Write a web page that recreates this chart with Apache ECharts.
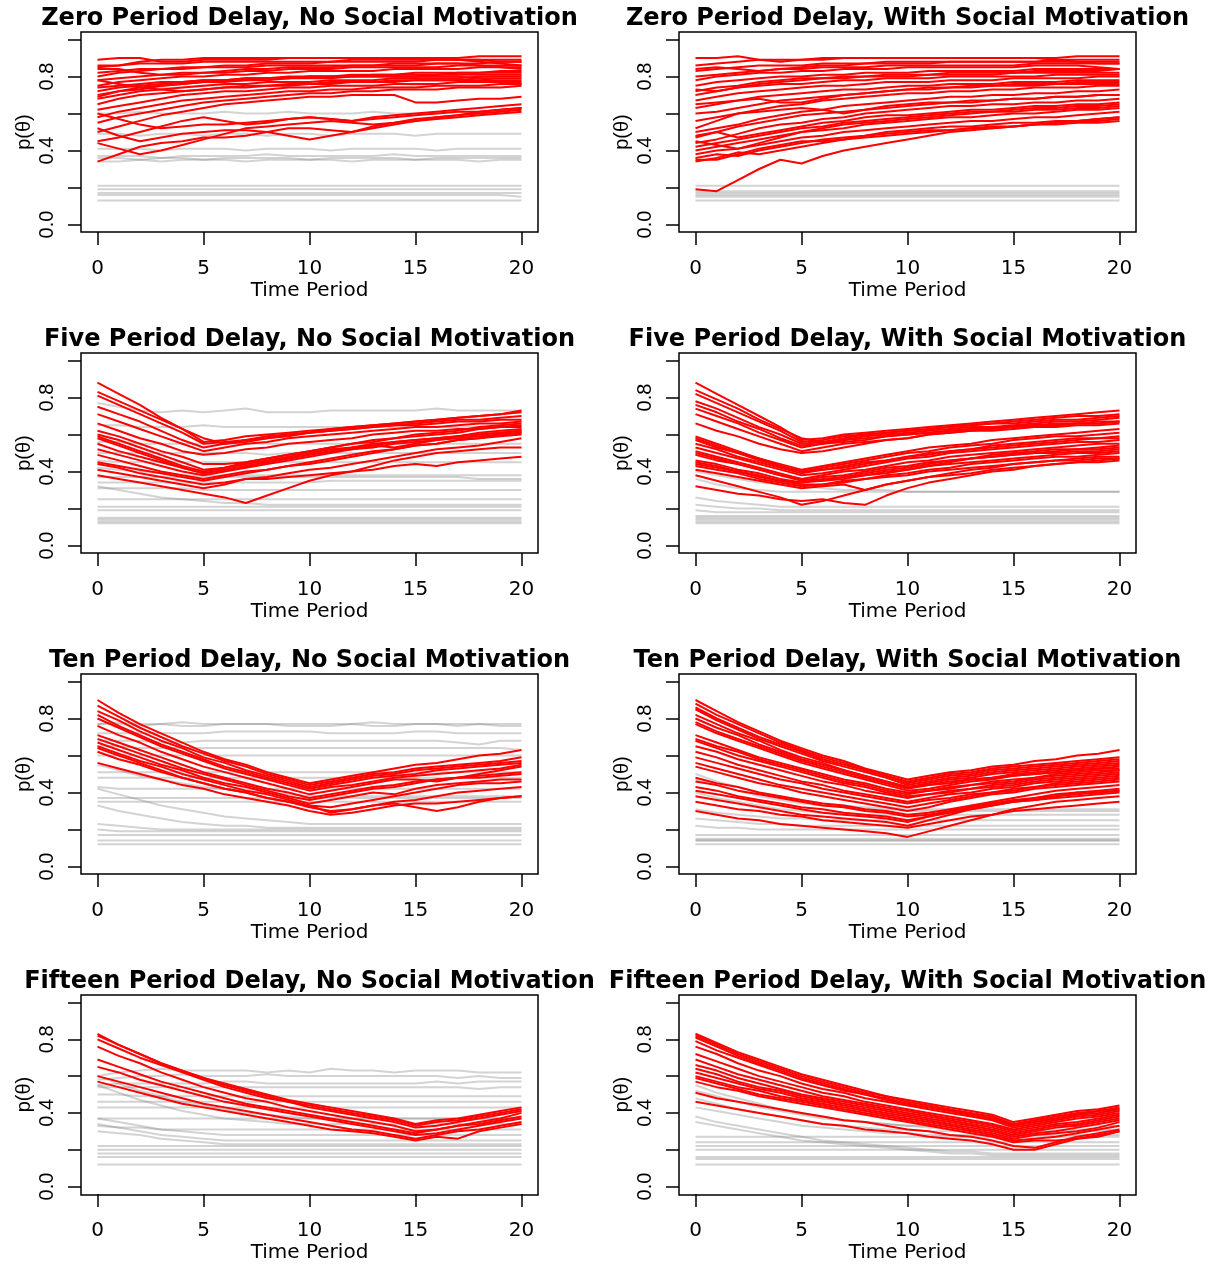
<!DOCTYPE html>
<html>
<head>
<meta charset="utf-8">
<script src="https://cdn.jsdelivr.net/npm/echarts@6/dist/echarts.min.js"></script>
<style>
html,body{margin:0;padding:0;background:#fff;}
#c{width:1208px;height:1264px;}
</style>
</head>
<body>
<div id="c"></div>
<script>
// Time periods (x values)
const timePeriods = [0,1,2,3,4,5,6,7,8,9,10,11,12,13,14,15,16,17,18,19,20];
const xTickInterval = 5;
const yTickInterval = 0.2;
const yLabelStep = 0.4;

const panelTitles = [
  "Zero Period Delay, No Social Motivation",
  "Zero Period Delay, With Social Motivation",
  "Five Period Delay, No Social Motivation",
  "Five Period Delay, With Social Motivation",
  "Ten Period Delay, No Social Motivation",
  "Ten Period Delay, With Social Motivation",
  "Fifteen Period Delay, No Social Motivation",
  "Fifteen Period Delay, With Social Motivation"
];

// p(theta) values in hundredths, one row per trajectory, t = 0..20
const zeroNoRed = [
[89,90,90,88,88,89,89,89,89,90,90,90,90,90,90,90,90,90,91,91,91],
[85,86,88,89,89,90,90,90,90,90,90,90,90,90,90,90,90,89,88,87,86],
[80,82,83,84,85,85,86,86,87,87,87,88,88,88,88,88,89,89,89,89,89],
[78,79,80,81,82,82,83,84,84,85,85,85,86,86,86,86,87,87,87,88,88],
[84,84,82,81,81,82,82,83,83,84,84,84,85,85,85,85,85,86,86,86,86],
[75,77,78,79,80,80,81,81,82,82,83,83,83,83,84,84,84,84,85,85,85],
[72,74,75,76,77,78,78,79,79,80,80,80,81,81,81,82,82,82,82,83,83],
[70,72,73,75,76,77,78,78,79,79,80,80,80,81,81,81,81,82,82,82,82],
[68,70,72,73,74,75,76,76,77,77,77,78,78,78,79,79,79,79,80,80,80],
[65,68,70,71,72,73,74,75,75,76,76,77,77,77,78,78,78,78,79,79,79],
[78,76,74,73,72,73,74,74,75,75,76,76,77,77,77,78,78,78,78,78,78],
[62,64,66,68,70,71,72,72,73,74,74,75,75,75,76,76,76,77,77,77,77],
[58,61,63,65,67,68,69,70,71,72,72,73,73,74,74,74,75,75,75,76,76],
[55,58,60,62,64,66,67,68,69,70,71,71,72,72,73,73,73,74,74,74,75],
[50,53,56,59,61,63,65,66,67,68,69,69,70,70,70,66,66,67,68,68,69],
[45,47,50,53,56,58,56,54,55,57,58,57,56,57,58,59,60,61,61,62,63],
[44,41,38,40,43,46,49,52,53,54,55,56,55,54,55,57,58,59,60,61,62],
[34,38,42,44,45,47,47,48,50,52,52,51,50,53,55,56,57,58,59,60,61],
[52,48,45,47,49,50,51,51,50,48,46,48,50,52,54,56,58,59,61,62,63],
[60,57,54,52,53,54,54,55,56,57,58,57,56,58,59,60,61,62,63,64,65],
[82,83,84,84,84,85,85,85,86,86,86,86,86,86,87,87,87,87,86,85,84],
[74,75,76,77,77,78,78,79,79,79,80,80,80,80,80,80,80,80,79,77,76],
[86,86,87,87,87,88,88,88,88,88,88,88,89,89,89,89,89,89,89,88,88],
[69,72,74,75,76,77,77,78,78,79,79,79,80,80,80,80,81,81,81,81,81]
];
const zeroNoGray = [
[74,74,75,74,74,75,75,74,75,75,74,75,75,75,74,75,75,75,75,74,75],
[60,60,61,60,60,60,61,60,60,61,60,60,60,61,60,60,60,61,60,60,60],
[49,49,48,49,49,48,49,49,48,49,49,48,49,49,49,48,49,49,49,49,49],
[41,41,41,40,41,41,41,40,41,41,41,40,41,41,41,41,40,41,41,41,41],
[37,37,37,36,37,37,37,37,38,37,37,37,37,37,38,37,37,37,37,37,37],
[36,36,35,36,36,35,36,36,36,36,35,36,36,36,36,35,36,36,36,36,36],
[34,34,35,34,35,35,35,34,35,35,35,35,34,35,35,35,35,35,34,35,35],
[21,21,21,21,21,21,21,21,21,21,21,21,21,21,21,21,21,21,21,21,21],
[19,19,19,19,19,19,19,19,19,19,19,19,19,19,19,19,19,19,19,19,19],
[17,17,17,17,17,17,17,17,17,17,17,17,17,17,17,17,17,17,17,17,17],
[16,16,16,16,16,16,16,16,16,16,16,16,16,16,16,16,16,16,16,16,15],
[13,13,13,13,13,13,13,13,13,13,13,13,13,13,13,13,13,13,13,13,13]
];

const zeroWithRed = [
[90,90,91,89,88,89,89,90,90,90,90,90,90,90,90,90,90,90,91,91,91],
[86,87,88,89,89,89,90,90,90,90,90,90,90,90,90,90,90,89,88,87,87],
[84,85,84,83,84,85,86,86,87,87,87,87,88,88,88,88,88,88,88,88,88],
[80,81,82,83,84,84,85,85,85,86,86,86,86,86,86,86,87,87,87,87,87],
[78,80,81,82,82,83,83,84,84,84,85,85,85,85,85,85,86,86,86,85,84],
[75,77,78,79,80,80,81,81,82,82,82,83,83,83,83,83,84,84,84,84,84],
[73,72,74,76,77,78,79,79,80,80,80,81,81,81,81,82,82,82,82,82,82],
[70,72,74,75,76,76,77,78,78,79,79,79,80,80,80,80,80,81,81,81,81],
[67,69,71,72,73,74,75,75,76,77,77,77,78,78,78,79,79,79,79,80,80],
[65,66,67,69,70,71,72,73,73,74,75,75,76,76,76,77,77,77,78,78,78],
[63,65,67,68,66,66,68,70,71,72,73,73,74,74,75,75,75,76,76,76,76],
[52,56,60,62,64,65,67,68,69,70,71,71,72,72,73,73,74,74,74,75,75],
[50,52,54,57,59,61,62,64,65,66,67,68,69,69,70,70,71,71,72,72,73],
[47,50,53,55,57,59,60,61,62,63,64,65,66,66,67,68,68,69,69,70,70],
[44,46,49,52,54,55,57,58,60,61,62,63,64,64,65,65,66,66,67,67,68],
[42,44,46,48,50,52,53,55,56,57,58,59,60,61,61,62,63,63,64,64,65],
[40,42,44,46,48,50,51,52,54,55,56,57,58,58,59,60,60,61,62,62,63],
[38,40,41,43,45,47,48,50,51,52,53,54,55,56,56,57,58,58,59,60,61],
[36,38,37,40,42,44,46,47,48,50,51,52,53,53,54,55,55,56,56,57,58],
[35,35,38,41,43,45,45,46,48,49,50,51,51,52,53,53,54,55,56,56,57],
[34,36,39,38,40,42,44,46,47,48,49,50,51,52,52,53,54,54,55,55,56],
[19,18,24,30,35,33,37,40,42,44,46,48,50,51,52,53,54,55,56,57,58],
[45,43,41,44,47,50,52,54,55,56,57,58,59,60,61,61,62,62,63,63,64],
[56,58,60,61,62,63,62,60,62,64,65,66,66,67,67,68,68,69,69,70,70],
[83,84,85,86,86,86,87,87,87,88,88,88,88,88,88,88,88,89,89,89,89],
[60,61,63,65,67,68,69,70,71,72,73,74,74,75,75,76,76,76,77,77,77],
[48,50,47,49,51,53,55,56,58,59,59,60,61,62,62,63,64,64,65,65,66],
[72,74,75,77,78,79,79,80,80,81,81,81,82,82,82,82,83,83,83,83,84]
];
const zeroWithGray = [
[21,21,21,21,21,21,21,21,21,21,21,21,21,21,21,21,21,21,21,21,21],
[18,18,18,18,18,18,18,18,18,18,18,18,18,18,18,18,18,18,18,18,18],
[17,17,17,17,17,17,17,17,17,17,17,17,17,17,17,17,17,17,17,17,17],
[16,16,16,16,16,16,16,16,16,16,16,16,16,16,16,16,16,16,16,16,16],
[15,15,15,15,15,15,15,15,15,15,15,15,15,15,15,15,15,15,15,15,15],
[13,13,13,13,13,13,13,13,13,13,13,13,13,13,13,13,13,13,13,13,13]
];

const fiveNoRed = [
[88,82,76,69,63,56,57,59,60,61,62,63,64,65,66,67,68,69,70,71,72],
[83,78,73,68,63,58,55,57,58,60,61,63,64,65,66,67,68,69,70,71,73],
[81,76,71,66,61,55,56,57,59,60,61,62,63,64,65,66,67,68,68,69,70],
[75,71,67,62,57,53,55,56,58,59,61,62,63,64,65,65,66,67,67,68,68],
[71,67,63,59,55,51,53,55,56,58,59,60,61,62,63,64,64,65,66,66,67],
[66,62,58,55,51,49,50,52,53,55,56,57,58,60,61,62,62,63,63,64,64],
[59,55,51,47,43,40,42,44,46,48,50,52,53,55,56,57,58,59,60,61,62],
[58,54,50,46,42,39,41,43,45,47,49,51,53,54,56,57,58,59,60,61,62],
[52,49,46,43,40,38,40,42,44,46,48,50,52,53,55,56,57,58,59,60,61],
[55,51,48,45,42,39,41,43,45,47,49,51,52,54,53,55,57,59,61,62,63],
[45,43,41,39,37,35,37,39,41,43,44,46,48,50,52,54,55,57,58,60,61],
[41,39,37,35,33,31,33,36,37,39,41,42,44,46,48,50,52,53,54,56,58],
[38,36,34,32,30,28,26,23,27,31,35,38,40,43,46,48,50,51,52,53,53],
[44,42,39,37,35,33,34,36,36,37,38,39,40,41,43,44,43,45,46,47,48],
[62,59,55,51,48,44,44,45,47,49,51,53,55,56,58,59,60,61,63,64,65],
[60,57,53,49,45,41,42,45,47,49,51,53,55,57,58,60,61,62,64,65,66],
[49,46,43,40,38,36,38,40,41,43,45,47,49,51,52,54,55,57,58,59,60]
];
const fiveNoGray = [
[77,75,73,72,73,72,73,74,72,72,72,73,73,73,73,73,74,73,73,73,73],
[65,65,64,64,64,65,64,64,64,64,64,64,64,64,64,64,64,64,64,64,64],
[56,56,55,55,55,55,55,55,55,55,55,55,55,55,55,55,55,55,55,55,55],
[50,50,50,50,50,50,50,50,49,50,50,50,50,50,50,50,50,50,50,50,50],
[46,45,45,45,45,45,45,45,45,45,45,45,45,45,45,45,45,45,45,45,45],
[42,41,40,39,38,38,38,38,38,38,38,38,38,38,38,38,38,38,38,38,38],
[37,37,37,37,37,37,37,37,37,37,37,37,37,37,37,37,37,37,36,36,36],
[34,34,34,34,34,34,34,34,34,34,34,35,35,35,35,35,35,35,35,35,35],
[31,31,31,31,31,30,30,30,30,30,30,30,30,30,30,30,30,30,30,30,30],
[32,30,28,26,25,24,23,23,22,22,22,22,22,22,22,22,22,22,22,22,22],
[25,25,25,25,25,25,25,25,25,25,25,25,25,25,25,25,25,25,25,25,25],
[21,21,21,21,21,21,21,21,21,21,21,21,21,21,21,21,21,21,21,21,21],
[19,19,19,19,19,19,19,19,19,19,19,19,19,19,19,19,19,19,19,19,19],
[15,15,15,15,15,15,15,15,15,15,15,15,15,15,15,15,15,15,15,15,15],
[14,14,14,14,14,14,14,14,14,14,14,14,14,14,14,14,14,14,14,14,14],
[13,13,13,13,13,13,13,13,13,13,13,13,13,13,13,13,13,13,13,13,13],
[12,12,12,12,12,12,12,12,12,12,12,12,12,12,12,12,12,12,12,12,12]
];

const fiveWithRed = [
[88,82,76,70,64,57,58,60,61,62,63,64,65,66,67,68,69,70,71,72,73],
[84,79,74,68,63,58,56,58,60,61,62,63,64,65,66,67,68,69,70,70,71],
[82,77,72,67,62,56,57,59,60,61,62,63,64,65,66,66,67,68,68,69,70],
[78,74,69,64,60,55,56,57,59,60,61,62,63,64,64,65,66,67,67,68,69],
[76,72,67,63,58,54,55,57,58,59,60,61,62,63,64,64,65,66,66,67,67],
[74,70,66,61,57,53,55,56,57,59,60,61,62,63,63,64,65,65,66,66,67],
[71,67,63,59,55,51,53,55,56,57,58,60,61,62,62,63,64,64,65,65,66],
[59,55,51,47,44,41,43,45,47,49,51,53,54,55,57,58,59,60,61,62,63],
[58,54,50,47,43,40,42,44,46,48,50,51,53,54,55,57,58,59,59,60,61],
[55,52,48,45,42,39,41,43,45,46,48,50,51,52,54,55,56,57,58,58,59],
[53,50,47,44,41,38,39,41,43,45,47,48,50,51,52,53,54,55,56,56,57],
[51,48,45,42,39,36,38,40,41,43,45,46,48,49,50,51,52,53,54,55,55],
[49,46,44,41,38,35,37,38,40,42,43,45,46,47,48,49,50,51,52,52,53],
[46,44,41,39,36,34,35,37,38,40,41,43,44,45,46,47,48,49,50,50,51],
[45,43,40,38,35,33,33,34,36,38,39,41,42,44,45,46,47,48,48,49,50],
[43,41,39,36,34,32,33,35,36,37,38,40,41,42,43,44,45,46,46,47,47],
[41,39,37,35,33,31,32,33,30,33,35,37,38,39,41,42,43,44,45,45,46],
[38,35,32,29,26,22,24,27,30,33,35,37,39,41,42,44,45,46,47,48,48],
[32,30,28,27,25,24,25,23,22,27,31,34,36,38,40,41,43,44,45,46,47],
[66,62,59,55,52,50,51,53,55,57,58,60,61,62,63,64,65,65,66,66,67],
[50,47,44,41,38,36,35,36,38,39,41,43,45,47,49,50,51,52,52,53,54],
[44,42,40,37,35,34,36,37,39,41,42,44,46,47,48,49,50,50,51,51,52],
[57,53,50,46,43,40,41,42,44,46,48,49,51,52,53,54,55,56,57,58,58]
];
const fiveWithGray = [
[40,38,36,34,33,32,31,30,30,30,29,29,29,29,29,29,29,29,29,29,29],
[36,33,31,30,29,29,29,29,29,29,29,29,29,29,29,29,29,29,29,29,29],
[26,24,23,22,21,21,21,21,21,21,21,21,21,21,21,21,21,21,21,21,21],
[22,21,20,20,19,19,19,19,19,19,19,19,19,19,19,19,19,19,19,19,19],
[19,18,18,18,18,18,18,18,18,18,18,18,18,18,18,18,18,18,18,18,18],
[16,16,16,16,16,16,16,16,16,16,16,16,16,16,16,16,16,16,16,16,16],
[15,15,15,15,15,15,15,15,15,15,15,15,15,15,15,15,15,15,15,15,15],
[14,14,14,14,14,14,14,14,14,14,14,14,14,14,14,14,14,14,14,14,14],
[13,13,13,13,13,13,13,13,13,13,13,13,13,13,13,13,13,13,13,13,13],
[12,12,12,12,12,12,12,12,12,12,12,12,12,12,12,12,12,12,12,12,12]
];

const tenNoRed = [
[90,83,77,72,67,62,58,55,51,48,45,47,49,51,53,55,56,58,60,61,63],
[87,81,75,70,65,61,57,54,50,47,44,46,48,50,51,53,54,55,56,57,59],
[84,79,73,68,64,59,56,52,49,46,43,45,47,49,50,52,53,54,55,56,57],
[82,76,71,66,62,58,54,51,48,45,42,44,46,48,49,50,52,53,54,55,56],
[80,75,70,65,61,57,53,50,47,44,41,43,44,46,48,49,50,51,52,53,55],
[71,67,63,59,55,51,48,45,42,40,37,39,41,43,44,46,47,48,49,50,51],
[69,65,61,57,53,50,47,44,41,38,36,38,40,42,43,45,47,48,48,49,50],
[67,63,59,55,52,48,45,43,40,37,34,36,38,40,39,42,44,45,46,47,47],
[65,61,57,54,50,47,44,41,39,36,33,32,34,36,38,40,42,44,45,45,46],
[62,58,55,51,48,45,42,40,37,35,32,30,31,33,35,36,38,40,41,42,43],
[56,53,50,47,44,42,39,37,35,33,30,28,29,31,33,34,34,35,36,37,38],
[76,71,67,62,58,54,51,48,45,42,39,41,43,45,47,47,46,48,50,52,54],
[64,60,56,52,48,45,42,40,37,35,33,29,31,33,34,32,30,32,35,37,38]
];
const tenNoGray = [
[77,77,76,77,76,76,77,77,77,76,76,76,77,76,76,77,77,76,77,76,76],
[77,78,77,77,78,77,77,77,77,77,77,77,77,78,77,77,77,77,77,77,77],
[72,72,72,72,72,72,73,73,73,73,73,72,72,72,72,73,73,72,72,72,72],
[68,68,68,67,67,68,68,68,68,68,68,68,68,68,68,68,68,67,66,68,68],
[65,65,64,64,64,64,64,64,64,64,64,64,64,64,64,64,64,64,64,64,63],
[60,60,60,60,60,60,60,60,60,60,60,60,60,60,60,60,60,60,60,60,60],
[51,51,51,51,51,51,51,51,51,51,51,51,51,51,51,51,51,51,51,51,51],
[48,48,48,48,48,48,48,48,48,48,48,48,48,48,48,48,48,48,48,48,48],
[55,52,49,47,45,43,42,41,40,39,38,38,38,38,38,38,38,38,38,38,38],
[43,42,42,42,42,42,42,42,42,42,42,42,42,42,42,42,42,42,42,42,42],
[37,37,37,37,37,37,37,37,37,37,37,37,37,37,37,37,37,37,37,37,37],
[35,35,35,35,35,35,35,35,35,35,35,35,35,35,35,35,35,35,35,35,35],
[42,39,36,33,31,29,27,26,25,24,23,23,23,23,23,23,23,23,23,23,23],
[33,30,28,26,24,23,22,22,21,21,21,21,21,21,21,21,21,21,21,21,21],
[23,22,21,20,20,20,20,20,20,20,20,20,20,20,20,20,20,20,20,20,20],
[20,19,19,19,19,19,19,19,19,19,19,19,19,19,19,19,19,19,19,19,19],
[17,17,17,17,17,17,17,17,17,17,17,17,17,17,17,17,17,17,17,17,17],
[14,14,14,14,14,14,14,14,14,14,14,14,14,14,14,14,14,14,14,14,14],
[12,12,12,12,12,12,12,12,12,12,12,12,12,12,12,12,12,12,12,12,12]
];

const tenWithRed = [
[90,84,78,73,68,64,60,57,53,50,47,49,51,52,54,55,57,58,60,61,63],
[88,82,77,72,67,63,59,56,52,49,46,48,50,51,53,54,55,56,57,58,59],
[86,80,75,70,66,62,58,55,52,49,45,47,49,50,52,53,54,55,56,57,58],
[85,79,74,69,65,61,57,54,51,48,44,46,48,49,51,52,53,54,55,56,57],
[82,77,72,68,63,59,56,52,49,46,43,45,47,48,50,51,52,53,54,55,56],
[78,73,69,65,61,57,54,51,48,45,42,44,46,47,48,49,50,51,52,53,54],
[77,72,68,64,60,56,53,50,47,44,41,42,44,46,47,49,50,51,52,53,53],
[71,67,63,59,56,53,50,47,45,42,40,41,43,44,46,47,48,50,51,52,52],
[69,65,62,58,55,52,49,46,44,41,39,41,42,44,45,46,48,49,50,51,52],
[68,64,60,57,54,51,48,45,43,40,38,39,41,42,44,45,47,48,49,50,51],
[62,59,55,52,49,46,44,41,39,37,35,37,39,40,42,43,45,46,47,48,49],
[56,53,50,47,44,42,40,38,36,34,32,34,36,38,40,42,43,45,46,47,48],
[54,51,48,45,43,40,38,36,34,32,30,32,35,37,39,40,42,43,44,45,46],
[48,45,43,40,38,36,34,33,31,30,28,29,31,33,35,37,39,41,42,43,44],
[43,41,38,36,34,32,31,29,28,27,25,27,29,31,33,35,37,38,40,41,42],
[41,39,37,35,33,31,29,28,27,26,24,27,30,32,34,36,37,39,40,40,41],
[38,36,34,32,30,28,27,26,25,24,22,25,28,31,33,35,36,37,38,39,40],
[30,28,26,25,23,22,21,20,19,18,16,19,22,25,28,31,33,35,36,37,38],
[65,62,58,55,52,49,46,44,41,39,37,39,40,42,43,44,46,47,48,49,50],
[59,56,53,50,47,45,42,40,38,36,34,36,37,39,40,41,43,44,45,46,47],
[46,44,41,39,37,35,33,32,30,29,27,28,30,32,34,35,36,38,39,40,41],
[80,75,71,66,62,58,55,52,49,46,43,44,45,47,48,50,51,52,53,54,55],
[35,33,31,30,28,27,25,24,23,22,21,23,25,27,28,30,31,32,33,34,35]
];
const tenWithGray = [
[50,46,43,40,38,36,34,33,32,32,31,31,31,31,31,31,31,31,31,31,31],
[47,44,41,38,36,34,33,32,31,31,30,30,30,30,30,30,30,30,30,30,30],
[40,37,35,33,31,30,29,29,28,28,28,28,28,28,28,28,28,28,28,28,28],
[31,29,28,27,26,26,25,25,25,25,25,25,25,25,25,25,25,25,25,25,25],
[26,25,24,23,23,22,22,22,22,22,22,22,22,22,22,22,22,22,22,22,22],
[22,21,21,20,20,20,20,20,20,20,20,20,20,20,20,20,20,20,20,20,20],
[17,17,17,17,17,17,17,17,17,17,17,17,17,17,17,17,17,17,17,17,17],
[15,15,15,15,15,15,15,15,15,15,15,15,15,15,15,15,15,15,15,15,15],
[14,14,14,14,14,14,14,14,14,14,14,14,14,14,14,14,14,14,14,14,14],
[14,14,14,14,14,14,14,14,14,14,14,14,14,14,14,14,14,14,14,14,14],
[12,12,12,12,12,12,12,12,12,12,12,12,12,12,12,12,12,12,12,12,12]
];

const fifteenNoRed = [
[83,77,72,67,63,59,56,53,50,47,45,43,41,39,37,34,36,37,39,41,43],
[82,77,72,67,63,59,55,52,49,46,44,42,40,38,36,33,35,36,38,40,42],
[80,75,70,66,62,58,54,51,48,46,43,41,39,37,35,32,33,35,37,39,41],
[76,71,67,62,58,54,51,48,46,43,41,39,37,35,33,30,31,33,34,36,38],
[69,65,61,57,54,51,48,45,43,41,39,37,35,33,31,29,31,33,35,37,40],
[65,62,58,55,52,49,46,44,42,40,38,36,34,32,30,28,29,31,33,35,37],
[60,57,54,51,48,45,43,41,39,37,35,33,31,30,28,26,28,30,31,33,35],
[57,54,51,48,45,43,41,39,37,35,33,31,30,29,27,25,27,26,30,32,34]
];
const fifteenNoGray = [
[60,62,63,64,63,63,63,63,62,63,62,64,63,63,62,63,63,63,62,62,62],
[58,59,60,60,61,60,60,60,61,60,60,60,60,60,60,60,60,59,60,59,59],
[55,56,56,56,56,56,57,57,56,56,56,56,56,56,56,56,57,56,57,57,57],
[54,54,54,54,54,54,54,54,54,54,54,54,54,54,54,54,54,54,53,54,54],
[50,50,49,49,49,49,49,49,49,49,49,49,49,49,49,49,49,49,49,49,49],
[46,46,46,46,46,46,46,46,46,46,46,46,46,46,46,46,46,46,46,46,46],
[43,43,43,43,43,43,43,43,43,43,43,43,43,43,43,43,43,43,43,43,43],
[60,56,52,49,46,44,42,40,39,38,37,37,37,37,37,37,37,37,37,37,37],
[55,51,47,44,41,39,37,36,35,34,34,34,34,34,34,34,34,34,34,34,34],
[37,37,37,37,37,37,37,37,37,37,37,37,37,37,37,37,37,37,37,37,37],
[37,35,33,31,30,29,28,28,28,28,28,28,28,28,28,28,28,28,28,28,28],
[34,32,30,28,27,26,25,25,25,25,25,25,25,25,25,25,25,25,25,25,25],
[33,32,32,31,31,31,31,31,31,31,31,31,31,31,31,31,31,31,31,31,31],
[30,29,28,26,25,24,23,23,23,23,23,23,23,23,23,23,23,23,23,23,23],
[22,22,22,22,22,22,22,22,22,22,22,22,22,22,22,22,22,22,22,22,22],
[20,20,20,20,20,20,20,20,20,20,20,20,20,20,20,20,20,20,20,20,20],
[18,18,18,18,18,18,18,18,18,18,18,18,18,18,18,18,18,18,18,18,18],
[16,16,16,16,16,16,16,16,16,16,16,16,16,16,16,16,16,16,16,16,16],
[12,12,12,12,12,12,12,12,12,12,12,12,12,12,12,12,12,12,12,12,12]
];

const fifteenWithRed = [
[83,78,73,69,65,61,58,55,52,49,47,45,43,41,39,35,37,39,41,42,44],
[82,77,72,68,64,60,57,54,51,49,46,44,42,40,38,34,36,38,40,41,43],
[81,76,71,67,63,59,56,53,50,48,45,43,41,39,37,33,35,37,39,40,42],
[76,72,67,63,60,56,53,51,48,46,44,42,40,38,36,32,34,36,38,39,41],
[72,68,64,60,57,54,51,49,46,44,42,40,38,36,34,31,33,35,37,38,40],
[69,65,61,58,55,52,49,47,45,43,41,39,37,35,33,30,32,34,35,37,39],
[66,63,59,56,53,50,48,46,44,42,40,38,36,34,32,29,31,33,34,36,38],
[64,61,57,54,52,49,47,45,43,41,39,37,35,33,31,28,30,32,33,35,37],
[62,59,56,53,51,48,46,44,42,40,38,36,34,32,30,27,29,30,32,34,36],
[60,57,54,52,49,47,45,43,41,39,37,35,33,31,29,26,28,29,30,32,35],
[59,56,53,50,48,46,44,42,40,38,36,34,32,30,28,25,26,27,29,31,33],
[57,54,52,49,47,45,43,41,39,37,35,33,31,29,27,24,25,25,26,27,30],
[51,48,46,44,42,40,38,36,35,33,31,30,28,27,25,22,21,24,27,29,31],
[46,44,42,40,38,36,34,33,31,30,29,27,26,25,23,20,20,23,26,28,30],
[79,74,70,66,62,58,55,52,50,47,45,43,41,39,37,33,35,37,39,41,42]
];
const fifteenWithGray = [
[55,51,48,45,42,40,38,36,35,34,33,32,31,31,31,31,31,31,31,31,31],
[52,49,46,43,41,39,37,36,35,34,33,33,33,33,33,33,33,33,33,33,33],
[48,45,42,40,38,36,34,33,32,31,31,30,30,30,30,30,30,30,30,30,30],
[43,41,39,37,35,33,32,31,30,29,29,28,28,28,28,28,28,28,28,28,28],
[38,35,33,31,29,27,25,24,23,22,21,20,19,19,18,18,18,18,18,18,18],
[35,33,31,29,27,25,24,23,22,21,20,19,18,18,17,17,17,17,17,17,17],
[27,27,27,27,27,27,27,27,27,27,27,27,27,27,27,27,27,27,27,27,27],
[24,24,24,24,24,24,24,24,24,24,24,24,24,24,24,24,24,24,24,24,24],
[22,22,22,22,22,22,22,22,22,22,22,22,22,22,22,22,22,22,22,22,22],
[20,20,20,20,20,20,20,20,20,20,20,20,20,20,20,20,20,20,20,20,20],
[16,16,16,16,16,16,16,16,16,16,16,16,16,16,16,16,16,16,16,16,16],
[15,15,15,15,15,15,15,15,15,15,15,15,15,15,15,15,15,15,15,15,15],
[12,12,12,12,12,12,12,12,12,12,12,12,12,12,12,12,12,12,12,12,12]
];

const panelRed = [zeroNoRed, zeroWithRed, fiveNoRed, fiveWithRed, tenNoRed, tenWithRed, fifteenNoRed, fifteenWithRed];
const panelGray = [zeroNoGray, zeroWithGray, fiveNoGray, fiveWithGray, tenNoGray, tenWithGray, fifteenNoGray, fifteenWithGray];

const chart = echarts.init(document.getElementById('c'), null, {renderer: 'canvas'});

const grids = [], xAxes = [], yAxes = [], series = [], graphics = [];
const hFont = 'DejaVu Sans';
const vFont = 'Liberation Sans';
// plot box (R-style frame with 4% padding around the data range)
const boxW = 457, boxH = 200, padX = 16.5, padY = 7.5;

for (let i = 0; i < 8; i++) {
  const col = i % 2, row = Math.floor(i / 2);
  const boxLeft = col ? 679 : 81;
  const boxTop = 32 + 321 * row;
  grids.push({left: boxLeft + padX, top: boxTop + padY, width: boxW - 2 * padX, height: boxH - 2 * padY,
    show: false, containLabel: false});
  xAxes.push({
    type: 'value', gridIndex: i, min: 0, max: 20, interval: xTickInterval, offset: padY, position: 'bottom',
    axisLine: {show: false, onZero: false}, splitLine: {show: false},
    axisTick: {show: true, length: 13, inside: false, lineStyle: {color: '#000', width: 1.5}},
    axisLabel: {show: true, margin: 27, fontSize: 20, fontFamily: hFont, color: '#000',
      showMinLabel: true, showMaxLabel: true},
    name: 'Time Period', nameLocation: 'middle', nameGap: 49,
    nameTextStyle: {fontSize: 20, fontFamily: hFont, color: '#000'}
  });
  yAxes.push({
    type: 'value', gridIndex: i, min: 0, max: 1, interval: yTickInterval, offset: padX, position: 'left',
    axisLine: {show: false, onZero: false}, splitLine: {show: false},
    axisTick: {show: true, length: 13, inside: false, lineStyle: {color: '#000', width: 1.5}},
    axisLabel: {show: true, rotate: 90, margin: 24, fontSize: 20, fontFamily: vFont, color: '#000',
      showMinLabel: true, showMaxLabel: true,
      formatter: function (v) {
        const k = Math.round(v * 10);
        return (k % Math.round(yLabelStep * 10) === 0) ? (k / 10).toFixed(1) : '';
      }},
    name: 'p(θ)', nameLocation: 'middle', nameRotate: 90, nameGap: 47,
    nameTextStyle: {fontSize: 20, fontFamily: vFont, color: '#000'}
  });
  panelGray[i].forEach(function (line) {
    series.push({type: 'line', xAxisIndex: i, yAxisIndex: i, symbol: 'none', showSymbol: false,
      silent: true, animation: false, clip: false, z: 2,
      lineStyle: {color: 'rgba(128,128,128,0.35)', width: 2},
      data: timePeriods.map(function (t, k) { return [t, line[k] / 100]; })});
  });
  panelRed[i].forEach(function (line) {
    series.push({type: 'line', xAxisIndex: i, yAxisIndex: i, symbol: 'none', showSymbol: false,
      silent: true, animation: false, clip: false, z: 3,
      lineStyle: {color: '#ff0000', width: 2},
      data: timePeriods.map(function (t, k) { return [t, line[k] / 100]; })});
  });
  graphics.push({type: 'rect', z: 5, silent: true,
    shape: {x: boxLeft, y: boxTop, width: boxW, height: boxH},
    style: {fill: 'none', stroke: '#000', lineWidth: 1.5}});
  graphics.push({type: 'text', x: boxLeft + boxW / 2, y: 19 + 321 * row, z: 10, silent: true,
    style: {text: panelTitles[i], fontSize: 24, fontWeight: 'bold', fontFamily: hFont, fill: '#000',
      align: 'center', verticalAlign: 'middle', textAlign: 'center', textVerticalAlign: 'middle'}});
}

chart.setOption({
  animation: false,
  backgroundColor: '#fff',
  grid: grids,
  xAxis: xAxes,
  yAxis: yAxes,
  series: series,
  graphic: graphics
});
</script>
</body>
</html>
